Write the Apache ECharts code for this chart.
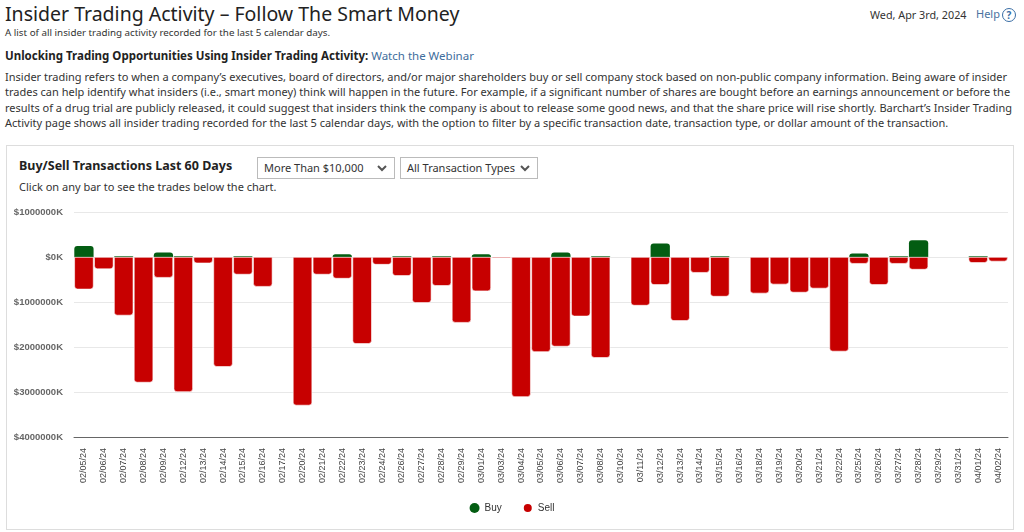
<!DOCTYPE html>
<html><head><meta charset="utf-8">
<script src="https://cdn.jsdelivr.net/npm/echarts@6/dist/echarts.min.js"></script>
<style>
html,body{margin:0;padding:0;background:#fff;width:1024px;height:532px;overflow:hidden;font-family:"Noto Sans","Open Sans",sans-serif;color:#222;}
.abs{position:absolute;white-space:nowrap;}
#title{left:5px;top:0px;font-size:19.5px;color:#222;}
#sub{left:5px;top:26px;font-size:9.8px;color:#333;}
#unlock{left:5px;top:48px;font-size:11.5px;}
#unlock b{font-weight:700;color:#222}
#unlock a{color:#3e6d9c;text-decoration:none}
#para{left:5px;top:69px;font-size:11px;line-height:15.3px;color:#333;}
#date{left:870px;top:7px;font-size:10.8px;color:#333;}
#help{left:976px;top:6px;font-size:11px;color:#4a72a0;}
#help span{display:inline-block;width:12px;height:12px;border:1.5px solid #3a6ea5;border-radius:50%;font-size:10px;line-height:12px;text-align:center;font-weight:700;color:#3a6ea5;vertical-align:middle;margin-left:2px;}
#panel{position:absolute;left:6px;top:145px;width:1008px;height:385px;border:1px solid #ddd;box-sizing:border-box;}
#ptitle{left:19px;top:157px;font-size:12.5px;font-weight:700;color:#222;}
.dd{position:absolute;top:157px;height:22px;border:1px solid #bbb;box-sizing:border-box;font-size:11px;color:#333;line-height:20px;padding-left:6px;background:#fff;}
.dd svg{position:absolute;right:7px;top:7px;}
#click{left:19px;top:179px;font-size:11px;color:#333;}
#chart{position:absolute;left:0;top:195px;width:1024px;height:330px;}
</style></head>
<body>
<div class="abs" id="title">Insider Trading Activity – Follow The Smart Money</div>
<div class="abs" id="sub">A list of all insider trading activity recorded for the last 5 calendar days.</div>
<div class="abs" id="unlock"><b>Unlocking Trading Opportunities Using Insider Trading Activity:</b> <a>Watch the Webinar</a></div>
<div class="abs" id="para">Insider trading refers to when a company’s executives, board of directors, and/or major shareholders buy or sell company stock based on non-public company information. Being aware of insider<br>trades can help identify what insiders (i.e., smart money) think will happen in the future. For example, if a significant number of shares are bought before an earnings announcement or before the<br>results of a drug trial are publicly released, it could suggest that insiders think the company is about to release some good news, and that the share price will rise shortly. Barchart’s Insider Trading<br>Activity page shows all insider trading recorded for the last 5 calendar days, with the option to filter by a specific transaction date, transaction type, or dollar amount of the transaction.</div>
<div class="abs" id="date">Wed, Apr 3rd, 2024</div>
<div class="abs" id="help">Help<span>?</span></div>
<div id="panel"></div>
<div class="abs" id="ptitle">Buy/Sell Transactions Last 60 Days</div>
<div class="dd" style="left:257px;width:138px;">More Than $10,000<svg width="10" height="7" viewBox="0 0 10 7"><path d="M1 1 L5 5 L9 1" stroke="#555" stroke-width="2" fill="none"/></svg></div>
<div class="dd" style="left:400px;width:138px;">All Transaction Types<svg width="10" height="7" viewBox="0 0 10 7"><path d="M1 1 L5 5 L9 1" stroke="#555" stroke-width="2" fill="none"/></svg></div>
<div class="abs" id="click">Click on any bar to see the trades below the chart.</div>
<div id="chart"></div>
<script>
const categories = ["02/05/24","02/06/24","02/07/24","02/08/24","02/09/24","02/12/24","02/13/24","02/14/24","02/15/24","02/16/24","02/17/24","02/20/24","02/21/24","02/22/24","02/23/24","02/24/24","02/26/24","02/27/24","02/28/24","02/29/24","03/01/24","03/03/24","03/04/24","03/05/24","03/06/24","03/07/24","03/08/24","03/10/24","03/11/24","03/12/24","03/13/24","03/14/24","03/15/24","03/16/24","03/18/24","03/19/24","03/20/24","03/21/24","03/22/24","03/25/24","03/26/24","03/27/24","03/28/24","03/29/24","03/31/24","04/01/24","04/02/24"];
// values in $K
const buyValues = [245000,null,18000,null,100000,18000,null,null,18000,null,null,null,null,60000,null,null,18000,null,18000,null,60000,null,null,null,100000,null,18000,null,null,300000,null,null,18000,null,null,null,null,null,null,80000,null,18000,370000,null,null,18000,null];
const sellValues = [-720000,-270000,-1300000,-2790000,-460000,-3000000,-140000,-2440000,-390000,-660000,null,-3300000,-390000,-480000,-1930000,-170000,-420000,-1020000,-640000,-1460000,-760000,-30000,-3110000,-2110000,-1990000,-1320000,-2240000,null,-1080000,-620000,-1420000,-350000,-880000,null,-810000,-610000,-790000,-700000,-2100000,-150000,-620000,-150000,-280000,null,null,-130000,-100000];
const yTicks = {min:-4000000, max:1000000, interval:1000000};

const chart = echarts.init(document.getElementById('chart'));
chart.setOption({
  animation:false,
  textStyle:{fontFamily:'"Liberation Sans", Arial, sans-serif'},
  grid:{left:74, right:16, top:17, bottom:88},
  legend:{bottom:6, left:'center', icon:'circle', itemWidth:10, itemHeight:10, itemGap:20,
    textStyle:{fontSize:10, color:'#333'}, data:['Buy','Sell']},
  xAxis:{type:'category', data:categories,
    axisLine:{onZero:false, lineStyle:{color:'#666', width:1}},
    axisTick:{show:false},
    axisLabel:{rotate:90, interval:0, fontSize:9, color:'#444', margin:11}},
  yAxis:{type:'value', min:yTicks.min, max:yTicks.max, interval:yTicks.interval,
    axisLine:{show:false}, axisTick:{show:false},
    splitLine:{lineStyle:{color:'#e8e8e8'}},
    axisLabel:{fontSize:9.5, fontWeight:'bold', color:'#666', margin:11,
      formatter:v=>'$'+Math.abs(v)+'K'}},
  series:[
    {name:'Buy', type:'bar', stack:'t', data:buyValues, barCategoryGap:'3%',
      itemStyle:{color:'#035d12', borderWidth:0, borderRadius:[3,3,0,0]}},
    {name:'Sell', type:'bar', stack:'t', data:sellValues, barCategoryGap:'3%',
      itemStyle:{color:'#c70000', borderColor:'#fff', borderWidth:0.6, borderRadius:[0,0,3,3]}}
  ]
});
</script>
</body></html>
